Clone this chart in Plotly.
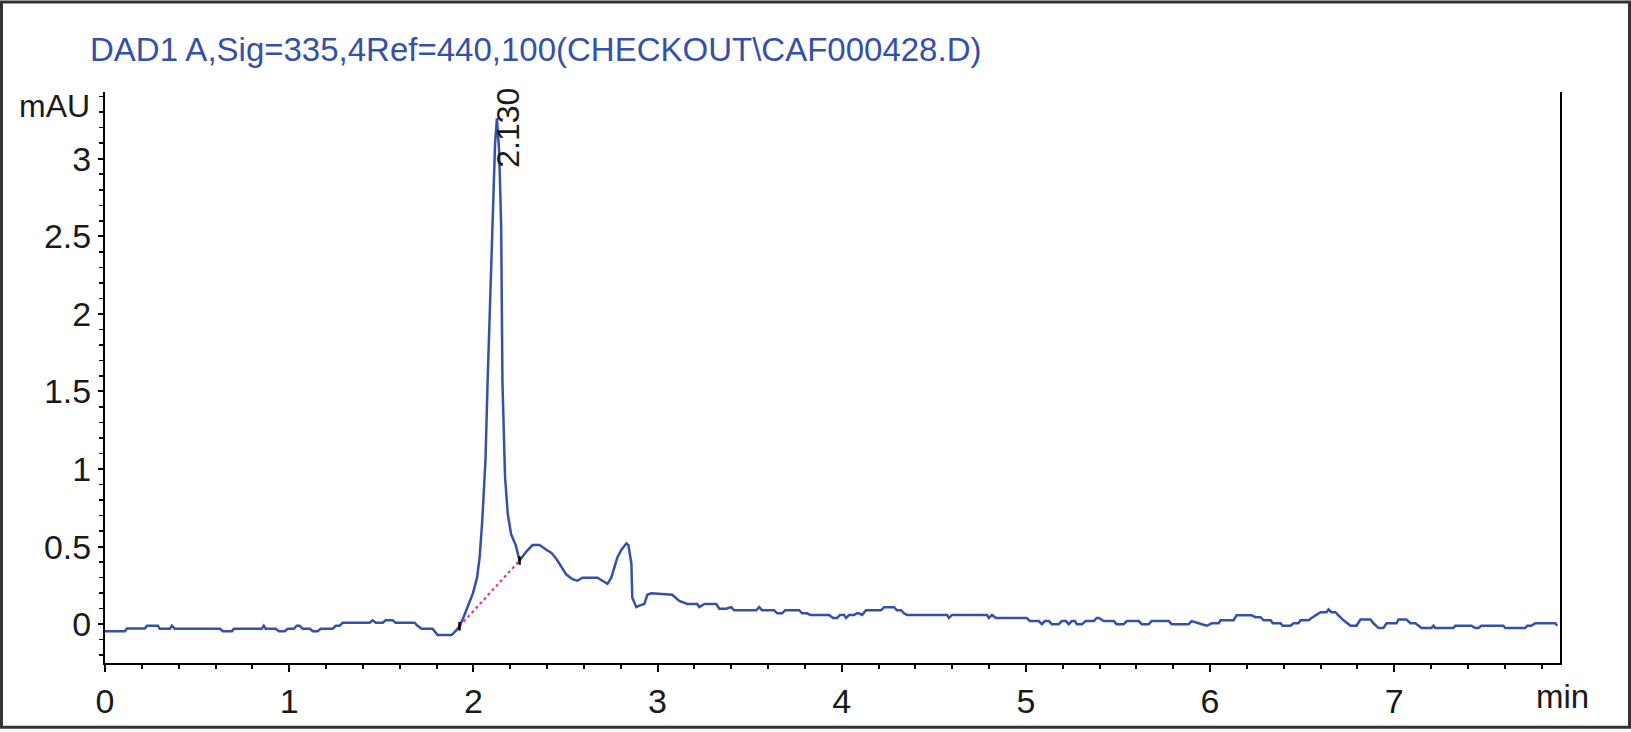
import plotly.graph_objects as go

# chromatogram trace (retention time in min, signal in mAU)
time_min = [
    0.00, 0.108, 0.119, 0.217, 0.228, 0.287, 0.298, 0.352, 0.363, 0.380,
    0.624, 0.640, 0.689, 0.700, 0.851, 0.862, 0.873, 0.927, 0.944, 0.976,
    0.992, 1.025, 1.041, 1.057, 1.074, 1.112, 1.128, 1.155, 1.171, 1.236,
    1.253, 1.274, 1.291, 1.437, 1.453, 1.470, 1.508, 1.524, 1.562, 1.578,
    1.681, 1.697, 1.719, 1.779, 1.806, 1.882, 1.903, 1.925,
    1.945, 1.972, 1.998, 2.020, 2.034, 2.048, 2.066, 2.077, 2.091, 2.106,
    2.118, 2.128, 2.140, 2.151, 2.158, 2.172, 2.187, 2.205, 2.230, 2.251,
    2.289, 2.321, 2.359, 2.397, 2.424, 2.451, 2.478, 2.505, 2.538, 2.565,
    2.592, 2.674, 2.701, 2.728, 2.749, 2.766, 2.782, 2.804, 2.831, 2.842,
    2.858, 2.863, 2.885, 2.901, 2.928, 2.945, 2.966, 3.080, 3.118, 3.162,
    3.216, 3.227, 3.254, 3.319, 3.335, 3.373, 3.400, 3.416, 3.536, 3.552,
    3.568, 3.633, 3.650, 3.677, 3.693, 3.769, 3.785, 3.812, 3.829, 3.932,
    3.953, 3.975, 3.991, 4.013, 4.024, 4.040, 4.067, 4.083, 4.094, 4.111,
    4.132, 4.214, 4.230, 4.284, 4.300, 4.322, 4.338, 4.355, 4.572, 4.582,
    4.599, 4.789, 4.799, 4.816, 4.837, 5.005, 5.022, 5.070, 5.087, 5.103,
    5.125, 5.141, 5.179, 5.195, 5.217, 5.233, 5.249, 5.266, 5.277, 5.304,
    5.325, 5.369, 5.385, 5.396, 5.423, 5.477, 5.493, 5.531, 5.548, 5.613,
    5.629, 5.667, 5.683, 5.776, 5.792, 5.884, 5.900, 5.938, 5.982, 6.009,
    6.047, 6.057, 6.128, 6.144, 6.226, 6.247, 6.274, 6.291, 6.329, 6.340,
    6.383, 6.394, 6.437, 6.453, 6.480, 6.491, 6.535, 6.551, 6.573, 6.600,
    6.632, 6.643, 6.659, 6.681, 6.697, 6.725, 6.763, 6.795, 6.817, 6.871,
    6.887, 6.915, 6.941, 6.958, 7.012, 7.023, 7.066, 7.088, 7.115, 7.148,
    7.202, 7.213, 7.223, 7.321, 7.332, 7.419, 7.440, 7.457, 7.473, 7.592,
    7.603, 7.711, 7.722, 7.744, 7.766, 7.874, 7.885,
]
signal_mau = [
    -0.045, -0.045, -0.028, -0.028, -0.01, -0.01, -0.03, -0.03, -0.01, -0.03,
    -0.03, -0.045, -0.045, -0.03, -0.03, -0.01, -0.03, -0.03, -0.045, -0.045,
    -0.03, -0.03, -0.01, -0.01, -0.03, -0.03, -0.045, -0.045, -0.03, -0.03,
    -0.01, -0.01, 0.01, 0.01, 0.025, 0.01, 0.01, 0.025, 0.025, 0.01,
    0.01, -0.01, -0.03, -0.03, -0.07, -0.07, -0.045, -0.013,
    0.04, 0.12, 0.20, 0.30, 0.43, 0.66, 1.06, 1.55, 2.08, 2.72,
    3.10, 3.26, 3.05, 2.57, 1.56, 0.95, 0.71, 0.58, 0.51, 0.41,
    0.47, 0.51, 0.51, 0.48, 0.46, 0.42, 0.37, 0.32, 0.29, 0.28,
    0.30, 0.30, 0.28, 0.26, 0.30, 0.37, 0.43, 0.48, 0.52, 0.51,
    0.39, 0.17, 0.11, 0.12, 0.13, 0.19, 0.20, 0.19, 0.15, 0.13,
    0.13, 0.11, 0.13, 0.13, 0.10, 0.10, 0.11, 0.09, 0.09, 0.11,
    0.09, 0.09, 0.07, 0.07, 0.09, 0.09, 0.07, 0.07, 0.06, 0.06,
    0.04, 0.04, 0.06, 0.06, 0.04, 0.06, 0.06, 0.07, 0.07, 0.06,
    0.09, 0.09, 0.11, 0.11, 0.09, 0.09, 0.07, 0.06, 0.06, 0.04,
    0.06, 0.06, 0.04, 0.06, 0.04, 0.04, 0.02, 0.02, 0.00, 0.02,
    0.02, 0.00, 0.00, 0.02, 0.02, 0.00, 0.02, 0.02, 0.00, 0.00,
    0.02, 0.02, 0.04, 0.04, 0.02, 0.02, 0.00, 0.00, 0.02, 0.02,
    0.00, 0.00, 0.02, 0.02, 0.00, 0.00, 0.02, 0.006, -0.01, 0.006,
    0.006, 0.025, 0.025, 0.057, 0.057, 0.045, 0.045, 0.025, 0.025, 0.006,
    0.006, -0.01, -0.01, 0.006, 0.006, 0.025, 0.025, 0.04, 0.057, 0.077,
    0.077, 0.095, 0.077, 0.077, 0.057, 0.025, -0.01, -0.01, 0.03, 0.03,
    0.006, -0.025, -0.025, 0.006, 0.006, 0.03, 0.03, 0.006, 0.006, -0.025,
    -0.025, -0.01, -0.025, -0.025, -0.01, -0.01, -0.025, -0.025, -0.01, -0.01,
    -0.025, -0.025, -0.01, -0.01, 0.006, 0.006, -0.01,
]

# integration baseline of the labelled peak
baseline_time = [1.925, 2.251]
baseline_mau = [-0.013, 0.41]

peak_rt = 2.130
peak_height = 3.26
peak_label = "2.130"

x_ticks = [0, 1, 2, 3, 4, 5, 6, 7]
y_ticks = [0, 0.5, 1, 1.5, 2, 2.5, 3]

TITLE = "DAD1 A,Sig=335,4Ref=440,100(CHECKOUT\\CAF000428.D)"
FONT = "Liberation Sans, Arial, Helvetica, sans-serif"
BLUE = "#3550aa"
INK = "#1a1a1a"

W, H = 1631, 732
L, R, T, B = 105, 71, 92, 66

fig = go.Figure()

fig.add_trace(go.Scatter(
    x=time_min, y=signal_mau, mode="lines",
    line=dict(color=BLUE, width=2.5), hoverinfo="skip",
))

fig.add_trace(go.Scatter(
    x=baseline_time, y=baseline_mau, mode="lines+markers",
    line=dict(color="#d03cb0", width=2.2, dash="dot"),
    marker=dict(symbol="line-ns", size=6, line=dict(color="black", width=2.5)),
    hoverinfo="skip",
))

fig.add_annotation(
    x=peak_rt, y=peak_height, text=peak_label, textangle=-90,
    showarrow=False, xanchor="center", yanchor="middle",
    xshift=11, yshift=-9,
    font=dict(family=FONT, size=32, color=INK),
)

# axis unit labels
fig.add_annotation(
    xref="paper", yref="paper", x=-13 / (W - L - R), y=1 - 14 / (H - T - B),
    text="mAU", showarrow=False, xanchor="right", yanchor="middle",
    font=dict(family=FONT, size=32, color=INK),
)
fig.add_annotation(
    xref="paper", yref="paper", x=1 + 2 / (W - L - R), y=-34 / (H - T - B),
    text="min", showarrow=False, xanchor="center", yanchor="middle",
    font=dict(family=FONT, size=33, color=INK),
)

# outer frame
fig.add_shape(
    type="rect", xref="paper", yref="paper",
    x0=-(L - 1.5) / (W - L - R), x1=1 + (R - 1.5) / (W - L - R),
    y0=-(B - 1.5) / (H - T - B), y1=1 + (T - 1.5) / (H - T - B),
    line=dict(color="#333333", width=3),
)

fig.update_layout(
    width=W, height=H,
    margin=dict(l=L, r=R, t=T, b=B),
    plot_bgcolor="white", paper_bgcolor="white",
    showlegend=False,
    font=dict(family=FONT, size=34, color=INK),
    title=dict(
        text=TITLE, x=90 / W, xanchor="left", xref="container",
        y=1 - 49 / H, yanchor="middle", yref="container",
        font=dict(family=FONT, size=33, color=BLUE),
    ),
    xaxis=dict(
        range=[0, 7.9], tickvals=x_ticks, ticktext=[str(v) for v in x_ticks],
        showline=True, linecolor="black", linewidth=2,
        ticks="outside", ticklen=7, tickwidth=2, tickcolor="black",
        minor=dict(dtick=0.2, ticks="outside", ticklen=4, tickwidth=2, tickcolor="black"),
        showgrid=False, zeroline=False,
    ),
    yaxis=dict(
        range=[-0.25, 3.43], tickvals=y_ticks,
        showline=True, linecolor="black", linewidth=2, mirror=True,
        ticks="outside", ticklen=5, tickwidth=2, tickcolor="black",
        minor=dict(dtick=0.1, ticks="outside", ticklen=4, tickwidth=1.5, tickcolor="black"),
        showgrid=False, zeroline=False,
    ),
)

fig.write_html(
    "out.html",
    config={"displayModeBar": False, "staticPlot": True},
    post_script="document.body.style.margin='0';",
)
